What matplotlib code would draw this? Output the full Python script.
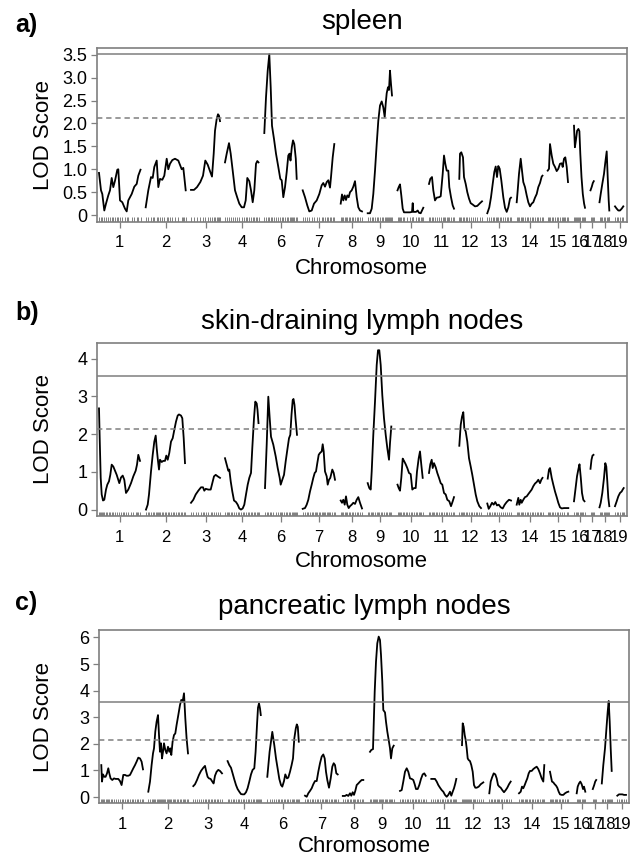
import numpy as np
import matplotlib.pyplot as plt

plt.rcParams['font.family'] = ['Liberation Sans', 'DejaVu Sans']

# chromosome layout (chr 5 is not in the scan)
chrom_names = ['1', '2', '3', '4', '6', '7', '8', '9', '10', '11', '12', '13',
               '14', '15', '16', '17', '18', '19']
chrom_len = [41.5, 40.5, 29, 33.5, 34, 33, 22, 25, 26.5, 25, 23, 24.5,
             26, 21.5, 11, 4.5, 10, 10]
chrom_gap = 5
first_start = 2

# a) spleen
spleen_pos = [
    [0, 2, 3.3, 5.3, 7, 9.3, 11, 12.7, 14.3, 16, 18.3, 19.3, 21, 23.3, 26, 27.7, 29.3, 32.7, 35.3, 37.7, 39.3, 41.5],
    [0.2, 2.8, 5.5, 7.2, 8.8, 11.2, 12.8, 14.5, 16.8, 18.8, 21.2, 22.8, 24.5, 26.8, 29.5, 32.8, 36.2, 37.8, 38.8, 40.2],
    [0, 3, 6, 9.3, 12, 14.3, 16.7, 19.3, 21, 22.7, 24, 25.7, 27, 28, 29],
    [0, 1.7, 4, 5.7, 7.7, 10, 12.3, 14.3, 16.7, 19, 20.7, 22.3, 24.3, 26, 27.7, 29.3, 31, 32.3, 33.5],
    [0.8, 2.5, 4.2, 5.8, 7.2, 8.5, 10.5, 12.5, 14.8, 16.8, 18.2, 19.8, 21.5, 23.2, 24.8, 26, 27, 28.3, 29.5, 30.8, 32.3, 33.2],
    [0.2, 2.5, 4.8, 6.8, 9.2, 11.5, 14.2, 16.8, 19.2, 20.8, 22.5, 24.2, 25.8, 27.5, 28.5, 30.2, 31.8],
    [0.2, 1.5, 2.8, 4.2, 5.5, 6.8, 8.2, 9.5, 11.2, 12.8, 14.5, 16.2, 17.8, 19.5, 21.5],
    [0.2, 2.5, 4.2, 5.8, 7.5, 9.2, 10.8, 12.5, 14.2, 15.8, 17.2, 18.2, 19.2, 20.5, 21.5, 22.5, 23.5, 24.5],
    [0, 1.2, 2.5, 3.8, 5.2, 6.5, 9.2, 12.5, 14.5, 15.2, 15.8, 18.5, 20.2, 21.5, 23.2, 24.5, 25.8],
    [0, 1.3, 3, 4.3, 6, 7.7, 10, 11.7, 13.7, 15, 16.3, 17.7, 19.3, 20.3, 22, 23.7, 25],
    [0.3, 1, 2.3, 4, 5, 6.7, 8.3, 10, 11.7, 13.7, 16, 18.3, 21, 23],
    [0.3, 2.3, 4, 5.7, 7.3, 8.7, 10, 11.3, 12.7, 14.3, 16.3, 18, 19.7, 21.3, 23, 24],
    [0.2, 1.2, 2.5, 4.2, 5.5, 6.8, 8.5, 10.2, 11.8, 13.5, 15.2, 16.8, 18.5, 20.2, 21.8, 23.5, 25.2, 26],
    [0.2, 1.5, 2.5, 4.2, 5.8, 7.5, 9.2, 10.8, 12.5, 14.2, 15.2, 16.5, 17.8, 19.2, 20.5],
    [0, 0.9, 1.9, 3.1, 4.4, 5.4, 6.3, 7.5, 8.8, 10.1, 11],
    [0.5, 1.8, 2.8, 3.8],
    [0, 1.2, 2.8, 4.5, 5.8, 7.2, 8.2, 9.2, 9.8],
    [0.5, 2.2, 3.8, 5.5, 7.2, 8.8],
]
spleen_lod = [
    [0.92, 0.54, 0.46, 0.1, 0.25, 0.43, 0.54, 0.81, 0.61, 0.75, 0.99, 1.0, 0.32, 0.28, 0.14, 0.08, 0.32, 0.46, 0.62, 0.68, 0.86, 0.99],
    [0.17, 0.54, 0.83, 0.81, 1.05, 1.19, 0.61, 0.79, 0.77, 0.86, 1.23, 1.0, 1.12, 1.2, 1.23, 1.19, 1.0, 1.03, 0.83, 0.54],
    [0.55, 0.55, 0.61, 0.72, 0.86, 1.19, 1.1, 0.94, 0.84, 1.34, 1.84, 2.1, 2.2, 2.17, 2.05],
    [1.15, 1.34, 1.57, 1.34, 0.97, 0.54, 0.38, 0.25, 0.17, 0.17, 0.32, 0.81, 0.74, 0.54, 0.28, 0.54, 1.12, 1.18, 1.15],
    [1.79, 2.57, 3.15, 3.51, 2.79, 1.95, 1.66, 1.34, 1.05, 0.79, 0.76, 0.39, 0.61, 0.94, 1.3, 1.34, 1.19, 1.48, 1.63, 1.55, 1.23, 0.79],
    [0.54, 0.39, 0.21, 0.08, 0.1, 0.25, 0.32, 0.46, 0.65, 0.7, 0.62, 0.72, 0.76, 0.6, 0.83, 1.26, 1.55],
    [0.25, 0.45, 0.32, 0.43, 0.33, 0.43, 0.39, 0.5, 0.54, 0.62, 0.74, 0.39, 0.17, 0.1, 0.08],
    [0.04, 0.04, 0.14, 0.46, 0.97, 1.55, 2.06, 2.39, 2.48, 2.35, 2.14, 2.43, 2.66, 2.79, 2.73, 3.15, 2.86, 2.61],
    [0.54, 0.61, 0.67, 0.43, 0.14, 0.06, 0.06, 0.06, 0.07, 0.26, 0.07, 0.07, 0.1, 0.05, 0.04, 0.1, 0.16],
    [0.68, 0.79, 0.83, 0.54, 0.32, 0.38, 0.39, 0.41, 0.9, 1.3, 1.12, 0.97, 0.97, 0.61, 0.39, 0.21, 0.14],
    [0.79, 1.34, 1.37, 1.26, 0.83, 0.68, 0.5, 0.36, 0.26, 0.23, 0.19, 0.2, 0.26, 0.3],
    [0.04, 0.17, 0.39, 0.68, 0.94, 1.06, 0.83, 1.07, 1.01, 0.76, 0.39, 0.16, 0.07, 0.17, 0.36, 0.38],
    [0.28, 0.54, 0.9, 1.23, 0.97, 0.72, 0.61, 0.43, 0.28, 0.19, 0.25, 0.28, 0.38, 0.46, 0.61, 0.7, 0.84, 0.86],
    [0.97, 1.01, 1.55, 1.3, 1.12, 1.05, 0.96, 1.01, 1.12, 1.13, 1.05, 1.23, 1.26, 1.05, 0.72],
    [1.95, 1.48, 1.63, 1.84, 1.88, 1.83, 1.34, 0.83, 0.46, 0.25, 0.16],
    [0.54, 0.62, 0.7, 0.74],
    [0.28, 0.46, 0.68, 0.9, 1.15, 1.39, 0.83, 0.32, 0.1],
    [0.19, 0.14, 0.1, 0.1, 0.14, 0.19],
]

# b) skin-draining lymph nodes
skin_pos = [
    [0, 0.7, 1.7, 2.7, 4, 5.3, 7, 8.3, 10, 11.3, 12.7, 14.3, 16, 17.7, 20.3, 22, 23.7, 25.3, 27, 29.3, 32, 34.3, 36.7, 38, 39.3, 41],
    [0.5, 2.2, 3.5, 5.5, 7.2, 8.8, 10.2, 11.2, 12.2, 13.5, 14.5, 16.2, 17.8, 19.5, 20.8, 22.2, 23.8, 25.5, 27.2, 28.8, 30.5, 32.2, 33.5, 35.5, 36.8, 38.2, 39.5],
    [0, 2.3, 4.7, 7.3, 10, 12, 13.3, 14.7, 17.3, 19.7, 21.3, 23, 24.7, 26.7, 29],
    [0, 1.7, 3.3, 4.3, 5.7, 7.3, 9, 11, 12.7, 14.3, 16, 17.7, 19.3, 21, 22.7, 24.3, 26, 27.3, 29, 30.3, 31.7, 32.5, 33.5],
    [1.5, 3.2, 4.8, 6.2, 7.5, 9.8, 12.2, 14.2, 16.2, 17.2, 18.8, 20.5, 22.2, 23.8, 25.5, 26.8, 28, 29.2, 30, 31, 32, 33.5],
    [0.2, 2.5, 4.2, 5.8, 7.5, 9.2, 10.8, 12.2, 13.5, 14.8, 16.2, 17.5, 19.2, 20.2, 21.2, 22.5, 24.2, 25.2, 26.5, 27.8, 29.8, 31.2, 32.5],
    [0.2, 1.5, 2.8, 4.2, 5.5, 6.8, 8.2, 9.5, 11.2, 12.8, 14.5, 16.2, 17.8, 19.5, 21.5],
    [0.2, 1.8, 3.2, 4.2, 5.8, 7.5, 9.2, 10.5, 11.8, 13.2, 14.8, 16.5, 18.2, 19.8, 21.5, 22.5, 23.8],
    [0, 1.2, 2.5, 3.8, 5.2, 6.5, 8.2, 9.8, 11.5, 13.2, 14.8, 16.5, 18.2, 19.5, 21.2, 22.5, 23.8, 25.2],
    [0, 1.3, 2.7, 3.7, 5, 6.7, 8.3, 10, 11.7, 13.3, 15, 16.7, 18.3, 20.3, 22, 23.7, 25],
    [0.3, 1.7, 3, 4.3, 5.3, 6.7, 8.3, 10, 11.7, 13.3, 15, 16.7, 18.3, 20.3, 22],
    [0.3, 1.7, 3.3, 5, 6.7, 8.3, 10, 11.7, 13.7, 15.7, 17.7, 19.7, 22, 24],
    [0.2, 1.8, 2.8, 4.2, 5.2, 6.8, 8.5, 10.2, 11.8, 13.5, 15.2, 16.8, 18.5, 20.2, 21.8, 23.5, 24.8, 26],
    [0.2, 1.5, 2.5, 4.2, 5.8, 7.5, 9.2, 10.8, 12.5, 14.2, 16.5, 19.2, 20.8],
    [0, 1.6, 3, 4.3, 5.5, 6.8, 8, 9.3, 10.5],
    [0.5, 1.5, 2.5, 3.5],
    [0, 1.2, 2.8, 4.5, 5.8, 6.8, 7.8, 8.8, 9.8],
    [0.5, 2.2, 3.8, 5.5, 7.2, 8.2, 9.2],
]
skin_lod = [
    [2.68, 1.89, 0.84, 0.4, 0.24, 0.26, 0.53, 0.66, 0.75, 0.92, 1.19, 1.14, 1.03, 0.92, 0.7, 0.85, 0.9, 0.79, 0.44, 0.53, 0.7, 0.88, 1.03, 1.19, 1.45, 1.29],
    [0, 0.13, 0.4, 1.01, 1.45, 1.8, 1.96, 1.63, 1.36, 1.06, 1.32, 1.26, 1.29, 1.29, 1.43, 1.32, 1.5, 1.8, 1.89, 2.11, 2.33, 2.49, 2.52, 2.49, 2.42, 1.89, 1.23],
    [0.18, 0.26, 0.4, 0.5, 0.59, 0.59, 0.5, 0.55, 0.53, 0.53, 0.7, 0.88, 0.92, 0.88, 0.84],
    [1.36, 1.19, 1.03, 1.06, 0.75, 0.48, 0.24, 0.2, 0.13, 0.03, 0, 0.03, 0.13, 0.4, 0.66, 0.84, 0.97, 1.63, 2.42, 2.86, 2.81, 2.64, 2.29],
    [0.57, 1.72, 2.99, 2.42, 1.93, 1.72, 1.41, 1.1, 0.84, 0.66, 0.79, 0.92, 1.28, 1.58, 1.89, 1.98, 2.51, 2.9, 2.93, 2.77, 2.42, 1.98],
    [0.02, 0.04, 0.13, 0.26, 0.48, 0.66, 0.84, 0.97, 1.01, 1.23, 1.45, 1.5, 1.54, 1.73, 1.54, 1.01, 0.88, 0.66, 0.79, 0.84, 1.06, 0.97, 0.79],
    [0.24, 0.18, 0.26, 0.13, 0.35, 0.13, 0.04, 0.09, 0.13, 0.18, 0.15, 0.26, 0.33, 0.18, 0.03],
    [0.7, 0.57, 0.53, 1.01, 1.98, 2.86, 3.83, 4.22, 4.22, 3.83, 3.03, 2.42, 1.98, 1.63, 1.32, 1.76, 2.2],
    [0.66, 0.57, 0.5, 0.84, 1.35, 1.29, 1.2, 1.1, 0.97, 0.94, 0.53, 0.57, 0.57, 1.01, 1.36, 1.54, 1.19, 0.84],
    [0.97, 1.2, 1.32, 1.1, 1.23, 1.12, 0.97, 0.84, 0.7, 0.66, 0.44, 0.4, 0.26, 0.22, 0.09, 0.22, 0.33],
    [1.69, 2.24, 2.46, 2.58, 2.15, 2.07, 1.8, 1.36, 1.14, 0.92, 0.66, 0.4, 0.22, 0.09, 0.04],
    [0.16, 0.02, 0.09, 0.18, 0.13, 0.2, 0.11, 0.13, 0.06, 0.03, 0.13, 0.2, 0.26, 0.24],
    [0.13, 0.31, 0.13, 0.26, 0.18, 0.26, 0.33, 0.35, 0.41, 0.47, 0.53, 0.62, 0.69, 0.73, 0.79, 0.7, 0.79, 0.84],
    [0.82, 1.06, 1.1, 0.84, 0.66, 0.48, 0.33, 0.18, 0.06, 0.03, 0.04, 0.04, 0.04],
    [0.22, 0.57, 0.88, 1.06, 1.2, 0.84, 0.44, 0.26, 0.22],
    [1.08, 1.32, 1.43, 1.45],
    [0.06, 0.18, 0.44, 0.84, 1.23, 1.14, 0.75, 0.31, 0.09],
    [0.09, 0.22, 0.35, 0.44, 0.48, 0.53, 0.57],
]

# c) pancreatic lymph nodes
panc_pos = [
    [0, 0.7, 1.7, 3, 4.3, 5.7, 7, 8, 9.3, 11, 12.7, 14.3, 17, 18.7, 20.3, 22, 23.7, 25.3, 27, 28.7, 30.3, 32, 33.7, 35.3, 37, 38.7, 40.3, 41.7],
    [0.5, 2.2, 3.8, 5.2, 6.2, 7.5, 8.8, 10.2, 11.2, 12.2, 13.2, 14.2, 15.2, 16.2, 17.5, 18.8, 20.2, 21.5, 22.5, 23.5, 24.8, 26.2, 27.5, 28.8, 30.5, 32.2, 33.5, 34.8, 36.2, 37.5, 38.8, 40.2],
    [0, 1.7, 3.7, 5.7, 7.7, 10, 11.7, 13, 14.3, 15.7, 17.3, 19, 20.3, 21.7, 23.3, 25, 26.7, 28.7],
    [0.3, 2, 3.7, 5.3, 7, 8.7, 10.3, 12, 13.7, 15.3, 17, 18.7, 20.3, 22, 23.7, 25.3, 27, 28.3, 29.7, 30.7, 31.7, 32.7, 33.5],
    [1.5, 3.8, 6.5, 8.5, 10.2, 11.8, 13.5, 15.2, 16.5, 18.2, 19.5, 21.2, 22.5, 24.2, 25.8, 27.2, 28.5, 30, 31, 32, 33],
    [0.2, 1.9, 3.5, 5.2, 6.9, 8.5, 10.2, 11.9, 13.5, 15.2, 16.9, 18.5, 19.9, 21.2, 22.5, 24.2, 25.9, 27.5, 28.9, 30.2, 31.5, 32.9],
    [0, 2.2, 3.9, 5.5, 7.2, 8.5, 9.9, 11.2, 12.5, 13.9, 15.5, 17.2, 18.9, 20.5],
    [0.2, 1.5, 3.2, 3.9, 4.9, 6.2, 7.5, 8.9, 10.2, 11.2, 12.5, 13.5, 15.2, 16.2, 17.5, 18.9, 20.2, 21.2, 22.5, 23.9],
    [0.2, 1.9, 3.5, 5.2, 6.9, 8.5, 10.2, 11.9, 13.5, 14.9, 16.2, 17.9, 19.5, 21.2, 22.9, 24.5, 25.9],
    [0, 2, 3.7, 5.4, 7, 8.7, 10.4, 12, 13.7, 15.4, 17, 18.7, 20, 21.4, 22.7, 24, 25],
    [0.7, 1.4, 2.4, 3.4, 4.4, 5.4, 6.4, 7.4, 8.7, 10, 11.4, 12.7, 14, 15.4, 17.4, 19.4, 22],
    [0, 1.4, 2.7, 4.4, 6, 7.4, 8.7, 10, 11.4, 13, 14.7, 16.4, 18, 19.7, 21.4],
    [0.2, 1.9, 3.2, 4.5, 5.9, 7.2, 8.5, 9.9, 11.2, 12.9, 14.5, 16.2, 17.9, 19.5, 21.2, 22.9, 24.5, 25.5],
    [0.2, 1.2, 2.2, 3.5, 4.9, 6.2, 7.5, 8.9, 10.2, 11.9, 13.5, 15.2, 16.9, 18.5],
    [0.4, 1.4, 2.7, 4, 5.4, 6.7, 7.7, 9],
    [0.5, 1.9, 2.9, 3.9],
    [0, 1.5, 3.2, 4.9, 5.9, 6.9, 7.9, 8.9, 9.9],
    [0.5, 2.2, 3.9, 5.5, 7.2, 9.2],
]
panc_lod = [
    [1.2, 0.58, 0.85, 0.76, 0.76, 0.89, 1.08, 0.89, 0.7, 0.64, 0.7, 0.68, 0.68, 0.6, 0.45, 0.83, 0.83, 0.8, 0.8, 0.83, 0.95, 1.08, 1.2, 1.33, 1.48, 1.45, 1.33, 1.04],
    [0.2, 0.58, 1.2, 1.64, 1.83, 2.46, 2.83, 3.08, 2.33, 1.7, 2.02, 1.45, 1.7, 2.02, 1.77, 1.64, 1.89, 1.7, 1.83, 1.58, 2.08, 2.33, 2.39, 2.71, 3.08, 3.46, 3.65, 3.58, 3.9, 2.96, 2.2, 1.64],
    [0.41, 0.48, 0.64, 0.83, 0.98, 1.1, 1.17, 0.95, 0.76, 0.7, 0.68, 0.58, 0.51, 0.8, 0.95, 1.02, 0.98, 0.89],
    [1.35, 1.2, 1.1, 0.89, 0.66, 0.45, 0.3, 0.2, 0.11, 0.1, 0.1, 0.18, 0.33, 0.58, 0.85, 1.02, 1.08, 1.7, 2.71, 3.36, 3.52, 3.33, 3.08],
    [0.76, 1.7, 2.45, 1.95, 1.45, 1.08, 0.68, 0.45, 0.39, 0.6, 0.85, 0.7, 0.73, 0.95, 1.2, 1.45, 2.2, 2.58, 2.73, 2.64, 2.08],
    [0.05, 0.01, 0.14, 0.23, 0.33, 0.48, 0.6, 0.6, 0.95, 1.27, 1.52, 1.6, 1.45, 0.95, 0.64, 0.35, 0.7, 1.14, 1.27, 1.2, 0.89, 0.85],
    [0.04, 0.04, 0.08, 0.04, 0.14, 0.05, 0.18, 0.08, 0.23, 0.45, 0.51, 0.58, 0.64, 0.64],
    [1.7, 1.77, 1.8, 2.71, 3.96, 5.09, 5.78, 6.03, 5.9, 5.34, 4.34, 3.27, 3.18, 2.83, 2.46, 2.14, 1.83, 1.45, 1.83, 1.93],
    [0.23, 0.26, 0.58, 0.95, 1.08, 0.95, 0.7, 0.68, 0.64, 0.48, 0.3, 0.3, 0.45, 0.68, 0.85, 0.89, 0.8],
    [0.68, 0.68, 0.68, 0.58, 0.45, 0.35, 0.26, 0.2, 0.08, 0.01, 0.08, 0.2, 0.05, 0.2, 0.33, 0.51, 0.68],
    [1.95, 2.77, 2.64, 2.33, 2.14, 1.83, 1.45, 1.39, 1.35, 1.2, 0.95, 0.45, 0.35, 0.35, 0.39, 0.48, 0.55],
    [0.14, 0.58, 0.73, 0.89, 0.85, 0.7, 0.45, 0.39, 0.35, 0.26, 0.18, 0.26, 0.35, 0.48, 0.58],
    [0.14, 0.2, 0.39, 0.33, 0.45, 0.58, 0.7, 0.89, 0.98, 0.98, 1.05, 1.1, 1.14, 1.05, 0.89, 0.7, 0.58, 1.2],
    [0.95, 0.76, 0.58, 0.55, 0.48, 0.43, 0.35, 0.2, 0.1, 0.08, 0.08, 0.14, 0.18, 0.2],
    [0.14, 0.39, 0.51, 0.58, 0.48, 0.3, 0.39, 0.2],
    [0.3, 0.45, 0.58, 0.64],
    [0.51, 1.2, 1.83, 2.71, 3.21, 3.61, 2.83, 1.83, 0.98],
    [0.05, 0.1, 0.1, 0.1, 0.08, 0.08],
]

panel_letters = ['a)', 'b)', 'c)']
panel_titles = ['spleen', 'skin-draining lymph nodes', 'pancreatic lymph nodes']
thr_solid = [3.52, 3.53, 3.56]
thr_dashed = [2.11, 2.13, 2.14]
y_ticks = [[0, 0.5, 1.0, 1.5, 2.0, 2.5, 3.0, 3.5], [0, 1, 2, 3, 4], [0, 1, 2, 3, 4, 5, 6]]
y_ticklabels = [['0', '0.5', '1.0', '1.5', '2.0', '2.5', '3.0', '3.5'],
                ['0', '1', '2', '3', '4'],
                ['0', '1', '2', '3', '4', '5', '6']]
y_limits = [(-0.14, 3.646), (-0.17, 4.42), (-0.24, 6.29)]

W, H = 644, 859
# axes boxes in pixels: left, top, bottom
boxes = [(97, 48, 221.5), (97, 342.7, 516), (99.3, 629.7, 803.4)]
box_w = 529.5
title_base = [29, 329, 614]
letter_base = [32, 320, 610]
xlabel_drop = [52, 51, 49]

starts = first_start + np.concatenate([[0], np.cumsum(np.array(chrom_len) + chrom_gap)[:-1]])
centers = starts + np.array(chrom_len) / 2.0

grey = '#7f7f7f'
fig = plt.figure(figsize=(W / 100, H / 100), dpi=100)

panels = [(spleen_pos, spleen_lod), (skin_pos, skin_lod), (panc_pos, panc_lod)]
for i, (pos_list, lod_list) in enumerate(panels):
    left, top, bottom = boxes[i]
    ax = fig.add_axes([left / W, 1 - bottom / H, box_w / W, (bottom - top) / H])
    rug = []
    for s, p, l in zip(starts, pos_list, lod_list):
        x = s + np.array(p)
        ax.plot(x, l, color='black', lw=1.3, solid_joinstyle='round')
        rug.extend(x)
    ax.vlines(rug, 0, 0.024, transform=ax.get_xaxis_transform(), color=grey, lw=0.7)
    ax.axhline(thr_solid[i], color=grey, lw=1.1)
    ax.axhline(thr_dashed[i], color=grey, lw=1.1, linestyle=(0, (3.5, 2.5)))

    ax.set_xlim(0, box_w)
    ax.set_ylim(*y_limits[i])
    ax.set_xticks(centers)
    ax.set_xticklabels(chrom_names, fontsize=12)
    ax.set_yticks(y_ticks[i])
    ax.set_yticklabels(y_ticklabels[i], fontsize=13)
    ax.tick_params(axis='x', length=4, width=0.9, color=grey, pad=6)
    ax.tick_params(axis='y', length=4, width=0.9, color=grey, pad=3)
    for sp in ax.spines.values():
        sp.set_color(grey)
        sp.set_linewidth(1.2)

    ax.text(0.5, -xlabel_drop[i] / (bottom - top), 'Chromosome', transform=ax.transAxes,
            ha='center', va='baseline', fontsize=16)
    ax.text(-(left - 33) / box_w, 0.5, 'LOD Score', transform=ax.transAxes,
            rotation=90, ha='left', va='center', fontsize=16)
    ax.text(0.5, (top - title_base[i]) / (bottom - top) + 1, panel_titles[i],
            transform=ax.transAxes, ha='center', va='baseline', fontsize=20)
    fig.text(15 / W, 1 - letter_base[i] / H, panel_letters[i],
             ha='left', va='baseline', fontsize=18, fontweight='bold')

fig.savefig('out.png', dpi=100)
